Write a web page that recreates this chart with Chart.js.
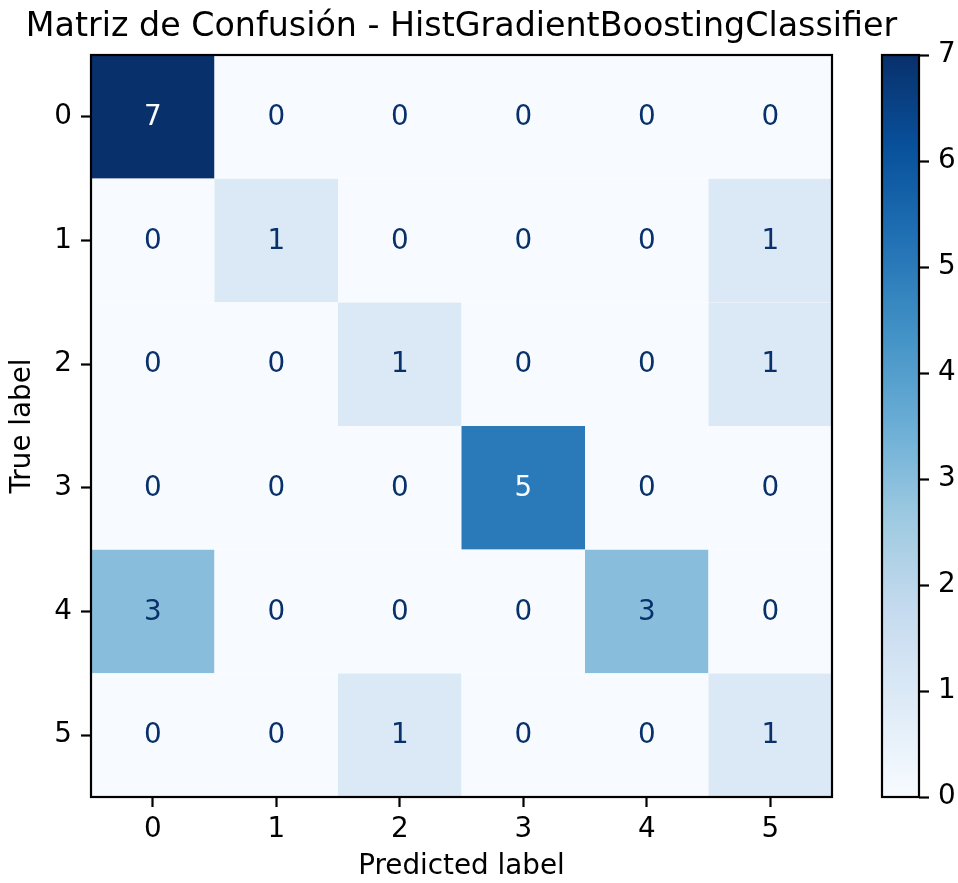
<!DOCTYPE html>
<html>
<head>
<meta charset="utf-8">
<script src="https://cdn.jsdelivr.net/npm/chart.js@4"></script>
<style>
  html, body { margin: 0; padding: 0; background: #fff; }
  #wrap { position: relative; width: 958px; height: 883px; }
  canvas { position: absolute; top: 0; }
  #main { left: 0; }
  #cbar { left: 860px; }
</style>
</head>
<body>
<div id="wrap">
  <canvas id="main" width="958" height="883"></canvas>
  <canvas id="cbar" width="98" height="883"></canvas>
</div>
<script>
// ---- data ----
const titleText = 'Matriz de Confusión - HistGradientBoostingClassifier';
const xAxisTitle = 'Predicted label';
const yAxisTitle = 'True label';
const classLabels = ['0', '1', '2', '3', '4', '5'];

// one row per true label, columns are predicted labels
const row0 = [7, 0, 0, 0, 0, 0];
const row1 = [0, 1, 0, 0, 0, 1];
const row2 = [0, 0, 1, 0, 0, 1];
const row3 = [0, 0, 0, 5, 0, 0];
const row4 = [3, 0, 0, 0, 3, 0];
const row5 = [0, 0, 1, 0, 0, 1];
const confusion = [row0, row1, row2, row3, row4, row5];

const colorbarTicks = [0, 1, 2, 3, 4, 5, 6, 7];
const vmin = 0;
const vmax = 7;

// ---- "Blues" colour map ----
const bluesStops = ['#f7fbff', '#deebf7', '#c6dbef', '#9ecae1', '#6baed6',
                    '#4292c6', '#2171b5', '#08519c', '#08306b'];
function hexToRgb(h) {
  return [parseInt(h.slice(1, 3), 16), parseInt(h.slice(3, 5), 16), parseInt(h.slice(5, 7), 16)];
}
const bluesRgb = bluesStops.map(hexToRgb);
function blues(t) {
  t = Math.min(1, Math.max(0, t));
  const pos = t * (bluesRgb.length - 1);
  const i = Math.min(Math.floor(pos), bluesRgb.length - 2);
  const f = pos - i;
  const a = bluesRgb[i], b = bluesRgb[i + 1];
  const c = a.map((v, k) => Math.round(v + (b[k] - v) * f));
  return `rgb(${c[0]},${c[1]},${c[2]})`;
}
const norm = v => (v - vmin) / (vmax - vmin);

Chart.defaults.font.family = "'DejaVu Sans', sans-serif";
Chart.defaults.color = '#000';

const FS = 27.8;        // tick / label font size
const LINE = 2.2;       // spine and tick width
const TICK_LEN = 10;

// one point per cell
const cells = [];
confusion.forEach((row, r) => row.forEach((v, c) => cells.push({ x: c, y: r, v })));

// black frame around the plotting area
const framePlugin = {
  id: 'frame',
  afterDatasetsDraw(chart) {
    const { ctx, chartArea: a } = chart;
    ctx.save();
    ctx.strokeStyle = '#000';
    ctx.lineWidth = LINE;
    ctx.strokeRect(a.left, a.top, a.right - a.left, a.bottom - a.top);
    ctx.restore();
  }
};

// value printed in the middle of every cell
const cellTextPlugin = {
  id: 'cellText',
  afterDatasetsDraw(chart) {
    const { ctx } = chart;
    const meta = chart.getDatasetMeta(0);
    const threshold = (vmin + vmax) / 2;
    ctx.save();
    ctx.font = `${FS}px 'DejaVu Sans', sans-serif`;
    ctx.textAlign = 'center';
    ctx.textBaseline = 'middle';
    meta.data.forEach((el, i) => {
      const v = cells[i].v;
      ctx.fillStyle = v > threshold ? bluesStops[0] : bluesStops[bluesStops.length - 1];
      ctx.fillText(String(v), el.x, el.y + 1);
    });
    ctx.restore();
  }
};

const integerTicks = s => { s.ticks = classLabels.map((_, i) => ({ value: i })); };
const cellRadius = ctx => {
  const s = ctx.chart.scales.x;
  return Math.abs(s.getPixelForValue(1) - s.getPixelForValue(0)) / Math.SQRT2;
};

new Chart(document.getElementById('main'), {
  type: 'scatter',
  data: {
    datasets: [{
      data: cells,
      pointStyle: 'rect',
      pointRadius: cellRadius,
      pointHoverRadius: cellRadius,
      pointBorderWidth: 0,
      pointHoverBorderWidth: 0,
      pointBackgroundColor: ctx => blues(norm(ctx.raw.v)),
      pointHoverBackgroundColor: ctx => blues(norm(ctx.raw.v))
    }]
  },
  options: {
    responsive: false,
    animation: false,
    events: [],
    layout: { padding: { left: 0, right: 35, top: 0, bottom: 0 } },
    plugins: {
      legend: { display: false },
      tooltip: { enabled: false },
      title: {
        display: true,
        text: titleText,
        color: '#000',
        font: { size: 33.3, weight: 'normal', lineHeight: 1 },
        padding: { top: 11.2, bottom: 10.5 }
      }
    },
    scales: {
      x: {
        type: 'linear',
        position: 'bottom',
        min: -0.5,
        max: 5.5,
        afterBuildTicks: integerTicks,
        afterFit: s => { s.height = 86; },
        ticks: {
          callback: (v, i) => classLabels[i],
          font: { size: FS },
          color: '#000',
          padding: 6,
          autoSkip: false,
          maxRotation: 0
        },
        grid: { drawOnChartArea: false, drawTicks: true, tickLength: TICK_LEN, tickWidth: LINE, tickColor: '#000' },
        border: { display: false },
        title: {
          display: true,
          text: xAxisTitle,
          color: '#000',
          font: { size: FS, lineHeight: 1 },
          padding: { top: 0, bottom: 2 }
        }
      },
      y: {
        type: 'linear',
        position: 'left',
        reverse: true,
        min: -0.5,
        max: 5.5,
        afterBuildTicks: integerTicks,
        afterFit: s => { s.width = 91; },
        ticks: {
          callback: (v, i) => classLabels[i],
          font: { size: FS },
          color: '#000',
          padding: 9,
          autoSkip: false
        },
        grid: { drawOnChartArea: false, drawTicks: true, tickLength: TICK_LEN, tickWidth: LINE, tickColor: '#000' },
        border: { display: false },
        title: {
          display: true,
          text: yAxisTitle,
          color: '#000',
          font: { size: FS, lineHeight: 1 },
          padding: { top: 9.3, bottom: 0 }
        }
      },
      // empty right-hand band that leaves room for the colour bar
      y2: {
        type: 'linear',
        position: 'right',
        display: true,
        afterFit: s => { s.width = 91; },
        ticks: { display: false },
        grid: { display: false },
        border: { display: false }
      }
    }
  },
  plugins: [cellTextPlugin, framePlugin]
});

// ---- colour bar ----
function colorbarGradient(ctx) {
  const chart = ctx.chart;
  if (!chart.chartArea) return bluesStops[bluesStops.length - 1];
  const y = chart.scales.y;
  const g = chart.ctx.createLinearGradient(0, y.getPixelForValue(vmin), 0, y.getPixelForValue(vmax));
  bluesStops.forEach((c, i) => g.addColorStop(i / (bluesStops.length - 1), c));
  return g;
}

new Chart(document.getElementById('cbar'), {
  type: 'bar',
  data: {
    labels: [''],
    datasets: [{
      data: [vmax],
      backgroundColor: colorbarGradient,
      borderWidth: 0,
      barPercentage: 1,
      categoryPercentage: 1,
      inflateAmount: 0
    }]
  },
  options: {
    responsive: false,
    animation: false,
    events: [],
    layout: { padding: { left: 22, top: 55, bottom: 86, right: 0 } },
    plugins: { legend: { display: false }, tooltip: { enabled: false } },
    scales: {
      x: { display: false },
      y: {
        position: 'right',
        min: vmin,
        max: vmax,
        afterBuildTicks: s => { s.ticks = colorbarTicks.map(v => ({ value: v })); },
        afterFit: s => { s.width = 39; },
        ticks: { font: { size: FS }, color: '#000', padding: 9 },
        grid: { drawOnChartArea: false, drawTicks: true, tickLength: TICK_LEN, tickWidth: LINE, tickColor: '#000' },
        border: { display: false }
      }
    }
  },
  plugins: [framePlugin]
});
</script>
</body>
</html>
